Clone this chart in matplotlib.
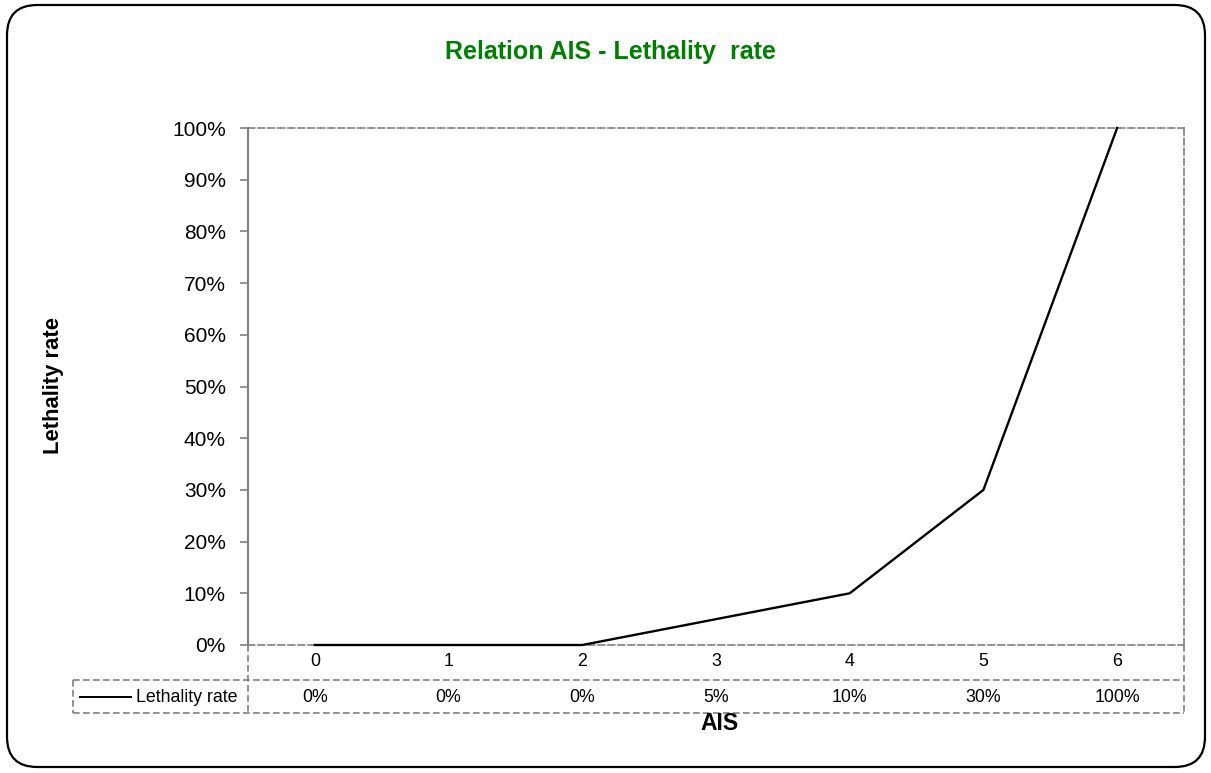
import numpy as np
import matplotlib.pyplot as plt
from matplotlib.patches import FancyBboxPatch
from matplotlib.lines import Line2D
import matplotlib.transforms as mtransforms

plt.rcParams['font.family'] = ['Liberation Sans', 'DejaVu Sans']

## data ################################
ais = [0, 1, 2, 3, 4, 5, 6]
lethality = [0, 0, 0, 5, 10, 30, 100]
yticks = [0, 10, 20, 30, 40, 50, 60, 70, 80, 90, 100]

W, H = 1211, 773
GRAY = '#808080'
DASH = (0, (4, 2))

def fx(px):
    return px / W

def fy(py):
    return 1 - py / H

fig = plt.figure(figsize=(W / 100, H / 100), dpi=100)

# rounded outer border
border = FancyBboxPatch((fx(7), fy(767)), fx(1198), (767 - 5) / H,
                        boxstyle='round,pad=0,rounding_size=0.025', transform=fig.transFigure,
                        fc='none', ec='black', lw=1.6, mutation_aspect=W / H, zorder=-1)
fig.patches.append(border)

ax = fig.add_axes([fx(248), fy(645), fx(1184 - 248), (645 - 128) / H])
ax.patch.set_alpha(0)
ax.plot(ais, lethality, color='black', lw=1.7, zorder=3, clip_on=False)

ax.set_xlim(-0.5, 6.5)
ax.set_ylim(0, 100)
ax.set_yticks(yticks)
ax.set_yticklabels([f'{v}%' for v in yticks], fontsize=15)
ax.set_xticks([])
ax.tick_params(axis='y', direction='out', length=6, width=1.2, color=GRAY, pad=10)

ax.spines['left'].set_color(GRAY)
ax.spines['left'].set_linewidth(1.5)
for s in ['top', 'right', 'bottom']:
    ax.spines[s].set_color(GRAY)
    ax.spines[s].set_linestyle(DASH)
    ax.spines[s].set_linewidth(1.2)

fig.text(fx(610), fy(52), 'Relation AIS - Lethality  rate', color='#008000',
         fontsize=18, fontweight='bold', ha='center', va='center')
fig.text(fx(54), fy(385), 'Lethality rate', rotation=90, fontsize=15.8,
         fontweight='bold', ha='center', va='center')
fig.text(fx(719), fy(723), 'AIS', fontsize=16.5, fontweight='bold', ha='center', va='center')

# data table below the axes
trans = mtransforms.blended_transform_factory(ax.transData, fig.transFigure)
for a, v in zip(ais, lethality):
    ax.text(a, fy(662), str(a), transform=trans, ha='center', va='center', fontsize=12.8)
    ax.text(a, fy(698), f'{v}%', transform=trans, ha='center', va='center', fontsize=12.8)

tbl = dict(color=GRAY, lw=1.2, linestyle=DASH, transform=fig.transFigure)
fig.lines.append(Line2D([fx(73), fx(1184)], [fy(680), fy(680)], **tbl))
fig.lines.append(Line2D([fx(73), fx(1184)], [fy(713), fy(713)], **tbl))
fig.lines.append(Line2D([fx(73), fx(73)], [fy(680), fy(713)], **tbl))
fig.lines.append(Line2D([fx(248), fx(248)], [fy(645), fy(713)], **tbl))
fig.lines.append(Line2D([fx(1184), fx(1184)], [fy(645), fy(713)], **tbl))

# legend key inside the table
fig.lines.append(Line2D([fx(80), fx(131)], [fy(697), fy(697)], color='black', lw=1.4,
                        transform=fig.transFigure))
fig.text(fx(136), fy(698), 'Lethality rate', fontsize=12.8, ha='left', va='center')

fig.savefig('out.png', dpi=100)
